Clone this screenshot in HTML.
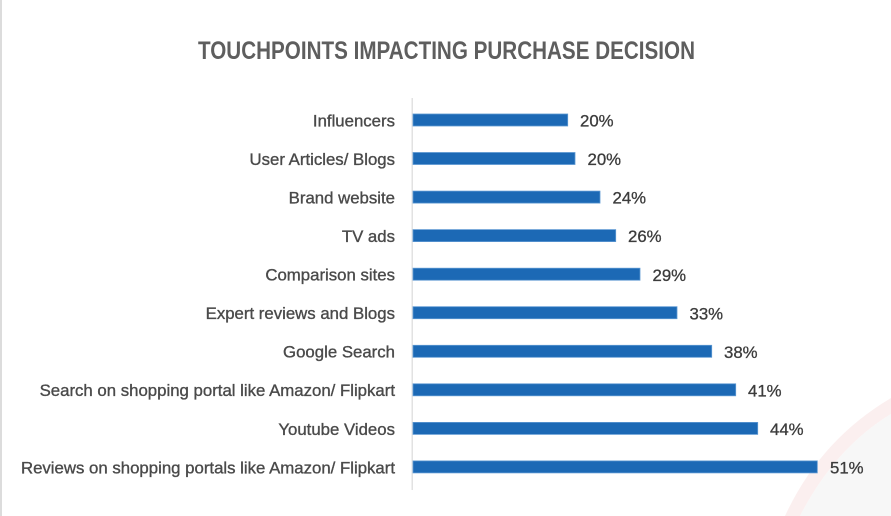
<!DOCTYPE html>
<html>
<head>
<meta charset="utf-8">
<style>
  html,body{margin:0;padding:0;background:#fff;}
  body{width:891px;height:516px;overflow:hidden;}
  svg{display:block;}
  text{font-family:"Liberation Sans",Arial,sans-serif;}
</style>
</head>
<body>
<svg width="891" height="516" viewBox="0 0 891 516" xmlns="http://www.w3.org/2000/svg">
  <rect x="0" y="0" width="891" height="516" fill="#ffffff"/>
  <!-- left border -->
  <rect x="0" y="0" width="2" height="516" fill="#dcdcdc"/>
  <!-- bottom-right decoration -->
  <path d="M891,398 Q820,440 785,516 L800,516 Q835,448 891,414 Z" fill="#fbefef"/>
  <path d="M891,414 Q835,448 800,516 L891,516 Z" fill="#f7f7f7"/>

  <!-- title -->
  <text x="198" y="59" font-size="25" font-weight="bold" fill="#5e5e5e" textLength="497" lengthAdjust="spacingAndGlyphs">TOUCHPOINTS IMPACTING PURCHASE DECISION</text>

  <!-- axis -->
  <rect x="411.5" y="98" width="1.5" height="392" fill="#e2e2e2"/>

  <g font-size="16.8" fill="#4a4a4a" stroke="#4a4a4a" stroke-width="0.35" text-anchor="end">
    <text x="395" y="126.4">Influencers</text>
    <text x="395" y="164.9">User Articles/ Blogs</text>
    <text x="395" y="203.5">Brand website</text>
    <text x="395" y="242.0">TV ads</text>
    <text x="395" y="280.6">Comparison sites</text>
    <text x="395" y="319.1">Expert reviews and Blogs</text>
    <text x="395" y="357.7">Google Search</text>
    <text x="395" y="396.2">Search on shopping portal like Amazon/ Flipkart</text>
    <text x="395" y="434.8">Youtube Videos</text>
    <text x="395" y="473.3">Reviews on shopping portals like Amazon/ Flipkart</text>
  </g>

  <g fill="#1c69b5" stroke="#5d98d2" stroke-width="0.8">
    <rect x="413" y="114" width="154.7" height="12"/>
    <rect x="413" y="152.5" width="162" height="12"/>
    <rect x="413" y="191.1" width="187" height="12"/>
    <rect x="413" y="229.6" width="202.7" height="12"/>
    <rect x="413" y="268.2" width="227" height="12"/>
    <rect x="413" y="306.7" width="264" height="12"/>
    <rect x="413" y="345.3" width="298.7" height="12"/>
    <rect x="413" y="383.8" width="322.7" height="12"/>
    <rect x="413" y="422.4" width="344.7" height="12"/>
    <rect x="413" y="460.9" width="404.3" height="12"/>
  </g>

  <g font-size="16.8" fill="#3c3c3c" stroke="#3c3c3c" stroke-width="0.3">
    <text x="580" y="126.6">20%</text>
    <text x="587.5" y="165.1">20%</text>
    <text x="612.5" y="203.7">24%</text>
    <text x="628" y="242.2">26%</text>
    <text x="652.5" y="280.8">29%</text>
    <text x="689.5" y="319.3">33%</text>
    <text x="724" y="357.9">38%</text>
    <text x="748" y="396.4">41%</text>
    <text x="770" y="435.0">44%</text>
    <text x="830" y="473.5">51%</text>
  </g>
</svg>
</body>
</html>
